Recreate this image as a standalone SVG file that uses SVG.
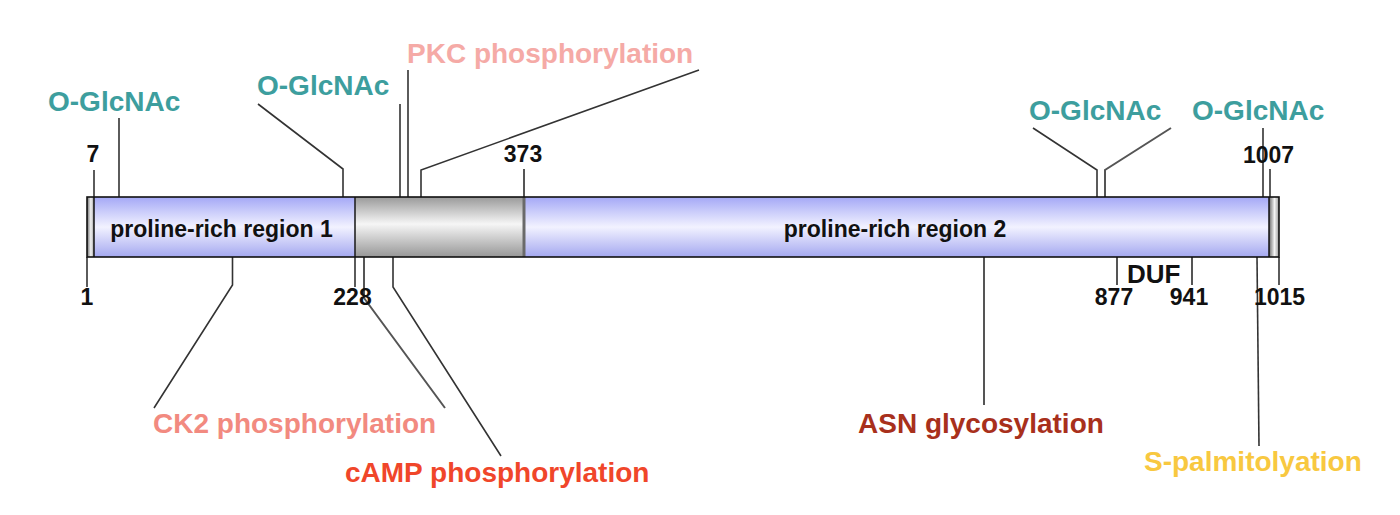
<svg xmlns="http://www.w3.org/2000/svg" width="1400" height="515" viewBox="0 0 1400 515">
<defs>
<linearGradient id="blue" x1="0" y1="0" x2="0" y2="1">
<stop offset="0" stop-color="#a4a8f6"/>
<stop offset="0.5" stop-color="#f2f2ff"/>
<stop offset="1" stop-color="#a4a8f0"/>
</linearGradient>
<linearGradient id="grey" x1="0" y1="0" x2="0" y2="1">
<stop offset="0" stop-color="#9a9a9a"/>
<stop offset="0.45" stop-color="#f6f6f6"/>
<stop offset="1" stop-color="#979797"/>
</linearGradient>
<linearGradient id="cap" x1="0" y1="0" x2="1" y2="0">
<stop offset="0" stop-color="#6a6a6a"/>
<stop offset="0.55" stop-color="#f4f4f4"/>
<stop offset="1" stop-color="#9a9a9a"/>
</linearGradient>
</defs>
<style>
text{font-family:"Liberation Sans",Arial,Helvetica,sans-serif;font-weight:bold}
.lab{font-size:28px}
.num{font-size:23px;fill:#111;text-anchor:middle}
.reg{font-size:23px;fill:#111;text-anchor:middle}
.glc{fill:#3d9e9e}
.ln{fill:none;stroke:#333;stroke-width:1.6}
.lg{fill:none;stroke:#555;stroke-width:2}
</style>
<g id="connectors">
<polyline class="ln" points="94,170 94,197"/>
<polyline class="ln" points="119,118 119,197"/>
<polyline class="ln" points="258,104 343,169 343,197"/>
<polyline class="ln" points="400,104 400,197"/>
<polyline class="ln" points="408,70 408,197"/>
<polyline class="ln" points="699,70 421,170 421,197"/>
<polyline class="lg" points="524,169 524,197"/>
<polyline class="ln" points="1033,128 1097,170 1097,197"/>
<polyline class="lg" points="1171,128 1105,170 1105,197"/>
<polyline class="ln" points="1263,128 1263,197"/>
<polyline class="ln" points="1270,169 1270,197"/>
<polyline class="ln" points="87,257 87,287"/>
<polyline class="ln" points="232.5,257 232.5,285 154,408"/>
<polyline class="ln" points="355,257 355,287"/>
<polyline class="lg" points="364,257 364,298 445,408"/>
<polyline class="ln" points="393,257 393,287 501,456"/>
<polyline class="lg" points="984,257 984,405"/>
<polyline class="lg" points="1117,257 1117,285"/>
<polyline class="lg" points="1192,257 1192,285"/>
<polyline class="ln" points="1257,257 1259,446"/>
<polyline class="ln" points="1279,257 1279,285"/>
</g>
<g id="bar">
<rect x="87" y="197" width="7" height="60" fill="url(#cap)"/>
<rect x="94" y="197" width="261" height="60" fill="url(#blue)"/>
<rect x="355" y="197" width="169" height="60" fill="url(#grey)"/>
<rect x="524" y="197" width="745" height="60" fill="url(#blue)"/>
<rect x="1269" y="197" width="10" height="60" fill="url(#cap)"/>
<line x1="94" y1="197" x2="94" y2="257" stroke="#111" stroke-width="1.5"/>
<line x1="355" y1="197" x2="355" y2="257" stroke="#222" stroke-width="1.6"/>
<line x1="524" y1="197" x2="524" y2="257" stroke="#6a6a6a" stroke-width="3"/>
<line x1="1269" y1="197" x2="1269" y2="257" stroke="#111" stroke-width="1.5"/>
<rect x="87" y="197" width="1192" height="60" fill="none" stroke="#111" stroke-width="1.6"/>
</g>
<g id="region1"><text class="reg" x="221.5" y="237">proline-rich region 1</text></g>
<g id="region2"><text class="reg" x="895" y="237">proline-rich region 2</text></g>
<g id="duf"><text x="1127" y="283" style="font-size:26px;fill:#111">DUF</text></g>
<g id="numbers">
<text class="num" x="93" y="162">7</text>
<text class="num" x="523" y="162">373</text>
<text class="num" x="1268.5" y="163">1007</text>
<text class="num" x="87" y="305">1</text>
<text class="num" x="352.5" y="305">228</text>
<text class="num" x="1114" y="305">877</text>
<text class="num" x="1189" y="305">941</text>
<text class="num" x="1279.5" y="305">1015</text>
</g>
<g id="oglcnac1"><text class="lab glc" x="48" y="111">O-GlcNAc</text></g>
<g id="oglcnac2"><text class="lab glc" x="257" y="95">O-GlcNAc</text></g>
<g id="pkc"><text class="lab" x="407" y="63" fill="#f5aaa6">PKC phosphorylation</text></g>
<g id="oglcnac3"><text class="lab glc" x="1029" y="120">O-GlcNAc</text></g>
<g id="oglcnac4"><text class="lab glc" x="1192" y="120">O-GlcNAc</text></g>
<g id="ck2"><text class="lab" x="153" y="433" fill="#f28a80">CK2 phosphorylation</text></g>
<g id="camp"><text class="lab" x="345" y="482" fill="#f0462a">cAMP phosphorylation</text></g>
<g id="asn"><text class="lab" x="858" y="433" fill="#a8301c">ASN glycosylation</text></g>
<g id="spalm"><text class="lab" x="1144" y="471" fill="#f8c840">S-palmitolyation</text></g>
</svg>
